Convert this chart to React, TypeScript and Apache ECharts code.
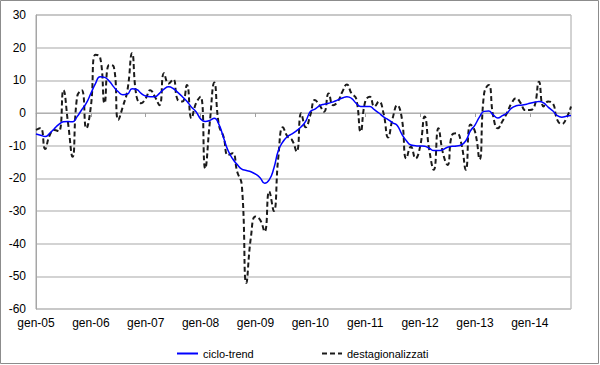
import React, { useEffect, useRef } from "react";
import * as echarts from "echarts";

const years = ["05", "06", "07", "08", "09", "10", "11", "12", "13", "14"];
const monthNames = ["gen", "feb", "mar", "apr", "mag", "giu", "lug", "ago", "set", "ott", "nov", "dic"];
const pointCount = 118;

const cicloTrend = [
  -6.4, -6.8, -7.2, -6.2, -4.8, -3.5, -2.7, -2.6, -2.7, -1.1, 1, 3,
  6, 9, 11.1, 10.9, 9.8, 8, 6.5, 5.6, 5.8, 7.4, 7.2, 6,
  5.2, 5, 5, 6, 7.3, 8, 7.5, 6.3, 5, 3.6, 1.8, 0.4,
  -1.8, -2.6, -2.3, -1.6, -3.5, -7.5, -11.5, -14, -15.8, -17.2, -17.6, -18,
  -18.7, -19.8, -21.5, -20.5, -17, -11.5, -8.8, -7.2, -6.4, -5.4, -4.2, -2.5,
  0.5, 1.2, 2.2, 2.7, 3, 3.4, 4, 4.6, 5, 4.5, 3, 2,
  2, 2, 1, 0, -1.2, -2, -3, -3.8, -6.5, -8.5, -9.8, -10,
  -10.1, -10.2, -10.8, -11.5, -11.5, -11.2, -10.5, -10.2, -10.1, -9.8, -8.5, -5.5,
  -3.7, -1.2, 0.5, 0.6, -0.6, -1.5, -0.8, 0, 1.5, 2.2, 2.4, 2.6,
  3, 3.3, 3.5, 3.1, 1.8, 0.7, -0.8, -1.3, -1.0, -0.8,
];

const destagionalizzati = [
  -5.2, -4.6, -11, -6.8, -5.2, -5.6, 7, -3, -13.4, 5, 7, -4.7,
  2, 17.8, 17.2, 3, 14.7, 14.2, -2.1, 2, 7, 18.3, 5, 3,
  4.5, 7, 5, 2.4, 12.2, 9, 10.3, 4, 3.5, 8.6, -1.6, 3,
  5, -17, -3, 9.3, -3.7, -7.2, -12.9, -12.3, -18, -22, -52, -38,
  -31.7, -32.7, -36.3, -24, -30, -13.4, -4.4, -7.2, -8.3, -11.8, -0.1, -4.4,
  -0.6, 4, 2.4, 0.4, 6, 2.4, 3.5, 6.5, 8.7, 6, 4.5, -5.7,
  3.5, 5, 2, 3.5, -0.1, -7.5, -1.6, 2.4, -1.6, -13.9, -10.3, -13.9,
  -10.3, -1.1, -11.3, -17.4, -4.7, -12.3, -15.9, -6.7, -6.2, -9.3, -17.4, -3.5,
  -5.7, -14.2, 6, 8.6, -1.1, -4.7, -2.5, 0, 3, 4.5, 3, 0.9,
  0.9, 2, 9.6, 2, 3.5, 3, -2.1, -3.4, -1.6, 2,
];

const yTicks = { min: -60, max: 30, interval: 10 };

function buildCategories(): string[] {
  const out: string[] = [];
  for (const y of years) {
    for (const m of monthNames) {
      if (out.length < pointCount) out.push(`${m}-${y}`);
    }
  }
  return out;
}

export default function App() {
  const ref = useRef<HTMLDivElement>(null);

  useEffect(() => {
    document.body.style.margin = "0";
    if (!ref.current) return;
    const chart = echarts.init(ref.current, undefined, { renderer: "svg" });
    const categories = buildCategories();
    const font = "Liberation Sans, Arial, sans-serif";

    const legendCommon = {
      top: 348,
      itemHeight: 10,
      padding: 0,
      itemStyle: { opacity: 0, borderWidth: 0 },
      textStyle: { fontSize: 11, color: "#000", fontFamily: font },
    };

    chart.setOption({
      animation: false,
      backgroundColor: "#ffffff",
      textStyle: { fontFamily: font },
      grid: {
        left: 36,
        right: 29,
        top: 15,
        bottom: 56,
        show: true,
        borderColor: "#a6a6a6",
        borderWidth: 1,
      },
      graphic: [
        {
          type: "rect",
          shape: { x: 0.5, y: 0.5, width: 598, height: 363 },
          style: { fill: "none", stroke: "#8c8c8c", lineWidth: 1 },
          silent: true,
        },
      ],
      legend: [
        { ...legendCommon, data: ["ciclo-trend"], left: 176, itemWidth: 21 },
        { ...legendCommon, data: ["destagionalizzati"], left: 321, itemWidth: 20 },
      ],
      xAxis: [
        {
          type: "category",
          data: categories,
          boundaryGap: false,
          axisLine: { show: false, onZero: false },
          axisTick: { show: false },
          axisLabel: {
            interval: 11,
            color: "#000",
            fontSize: 12,
            fontFamily: font,
            margin: 8,
          },
          splitLine: { show: false },
        },
        {
          type: "category",
          data: categories,
          boundaryGap: false,
          position: "bottom",
          axisLine: { show: true, onZero: true, onZeroAxisIndex: 0, lineStyle: { color: "#b0b0b0", width: 1 } },
          axisTick: { show: true, interval: 11, length: 4, lineStyle: { color: "#a0a0a0" } },
          axisLabel: { show: false },
          splitLine: { show: false },
        },
      ],
      yAxis: {
        type: "value",
        min: yTicks.min,
        max: yTicks.max,
        interval: yTicks.interval,
        axisLine: { show: true, lineStyle: { color: "#a6a6a6" } },
        axisTick: { show: false },
        axisLabel: { color: "#000", fontSize: 12, fontFamily: font, margin: 10 },
        splitLine: { show: true, lineStyle: { color: "#c4c4c4", width: 1.5 } },
      },
      series: [
        {
          name: "ciclo-trend",
          type: "line",
          data: cicloTrend,
          smooth: 0.5,
          symbol: "none",
          z: 3,
          lineStyle: { color: "#0000ff", width: 1.5 },
          itemStyle: { color: "#0000ff" },
        },
        {
          name: "destagionalizzati",
          type: "line",
          data: destagionalizzati,
          smooth: 0.5,
          symbol: "none",
          z: 2,
          lineStyle: { color: "#1a1a1a", width: 2, type: [5, 3] },
          itemStyle: { color: "#1a1a1a" },
        },
      ],
    });

    return () => chart.dispose();
  }, []);

  return <div ref={ref} style={{ width: 600, height: 365 }} />;
}
